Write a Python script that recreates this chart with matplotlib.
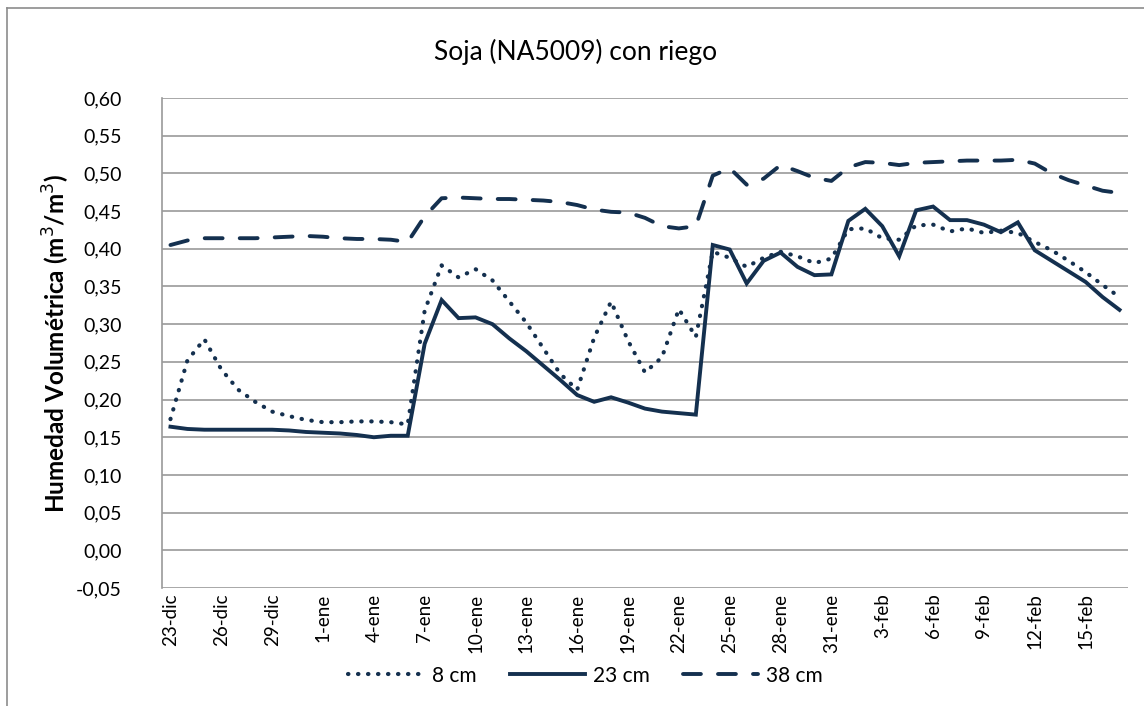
import numpy as np
import matplotlib
matplotlib.use("Agg")
import matplotlib.pyplot as plt
from matplotlib.lines import Line2D

plt.rcParams['font.family'] = ['Lato', 'DejaVu Sans']

# daily readings, 23-dic .. 17-feb
cm8 = [0.174, 0.252, 0.280, 0.240, 0.213, 0.197, 0.184, 0.178, 0.173, 0.170,
       0.170, 0.171, 0.171, 0.170, 0.167, 0.318, 0.378, 0.362, 0.373, 0.358,
       0.330, 0.302, 0.268, 0.234, 0.213, 0.282, 0.330, 0.278, 0.236, 0.256,
       0.320, 0.283, 0.396, 0.388, 0.376, 0.388, 0.396, 0.390, 0.381, 0.387,
       0.426, 0.427, 0.414, 0.412, 0.431, 0.432, 0.423, 0.427, 0.421, 0.424,
       0.421, 0.409, 0.398, 0.384, 0.369, 0.352, 0.336]
cm23 = [0.164, 0.161, 0.160, 0.160, 0.160, 0.160, 0.160, 0.159, 0.157, 0.156,
        0.155, 0.153, 0.150, 0.152, 0.152, 0.274, 0.332, 0.308, 0.309, 0.300,
        0.281, 0.264, 0.245, 0.226, 0.206, 0.197, 0.203, 0.196, 0.188, 0.184,
        0.182, 0.180, 0.405, 0.399, 0.354, 0.384, 0.395, 0.376, 0.365, 0.366,
        0.437, 0.453, 0.430, 0.390, 0.451, 0.456, 0.438, 0.438, 0.432, 0.422,
        0.435, 0.398, 0.384, 0.370, 0.356, 0.336, 0.319]
cm38 = [0.405, 0.411, 0.414, 0.414, 0.414, 0.414, 0.415, 0.416, 0.417, 0.416,
        0.414, 0.413, 0.413, 0.412, 0.409, 0.443, 0.467, 0.468, 0.467, 0.466,
        0.466, 0.465, 0.464, 0.462, 0.458, 0.452, 0.449, 0.448, 0.441, 0.430,
        0.427, 0.430, 0.497, 0.507, 0.485, 0.493, 0.511, 0.503, 0.494, 0.490,
        0.508, 0.515, 0.514, 0.511, 0.514, 0.515, 0.516, 0.517, 0.517, 0.517,
        0.518, 0.513, 0.500, 0.491, 0.484, 0.477, 0.474]
date_labels = ['23-dic', '26-dic', '29-dic', '1-ene', '4-ene', '7-ene', '10-ene',
               '13-ene', '16-ene', '19-ene', '22-ene', '25-ene', '28-ene',
               '31-ene', '3-feb', '6-feb', '9-feb', '12-feb', '15-feb']
label_step = 3

color = '#14304f'
grid_c = '#9a9a9a'

fig = plt.figure(figsize=(11.44, 7.06), dpi=100)
ax = fig.add_axes([0.1416, 0.1671, 0.8444, 0.6941])

days = np.arange(len(cm23))
ax.plot(days, cm8, color=color, lw=3.0, linestyle=(0, (0.1, 2.3)),
        dash_capstyle='round', label='8 cm')
ax.plot(days, cm23, color=color, lw=2.8, solid_joinstyle='miter', label='23 cm')
ax.plot(days, cm38, color=color, lw=2.8, linestyle=(0, (4.6, 4.4)),
        dash_capstyle='round', label='38 cm')

ax.set_xlim(-0.5, len(days) - 0.5)
ax.set_ylim(-0.05, 0.60)
yt = np.arange(-0.05, 0.601, 0.05)
ax.set_yticks(yt)
ax.set_yticklabels([f'{v:.2f}'.replace('.', ',') for v in yt], fontsize=14)
ax.set_xticks(days[::label_step])
ax.set_xticklabels(date_labels, rotation=90, fontsize=13.5)
ax.tick_params(axis='y', length=0, pad=29)
ax.tick_params(axis='x', length=0, pad=4)

ax.yaxis.grid(True, color=grid_c, lw=1.2)
ax.set_axisbelow(True)
for s in ['top', 'right', 'bottom']:
    ax.spines[s].set_visible(False)
ax.spines['left'].set_color(grid_c)
ax.spines['left'].set_linewidth(1.2)

ax.set_ylabel('Humedad Volumétrica (m$^3$/m$^3$)', fontsize=17.5, fontweight='bold')
ax.yaxis.set_label_coords(-0.093, 0.5)
fig.text(0.503, 0.926, 'Soja (NA5009) con riego', ha='center', va='center',
         fontsize=19)

fig.legend(loc='center', bbox_to_anchor=(0.512, 0.043), ncol=3, frameon=False,
           fontsize=15, handlelength=3.6, columnspacing=1.6, handletextpad=0.4)

# chart area border
fig.add_artist(Line2D([0.0065, 0.0065], [0, 0.988], color='#8c8c8c', lw=1.2,
                      transform=fig.transFigure))
fig.add_artist(Line2D([0.0065, 1.0], [0.988, 0.988], color='#8c8c8c', lw=1.2,
                      transform=fig.transFigure))

fig.savefig('out.png', dpi=100)
